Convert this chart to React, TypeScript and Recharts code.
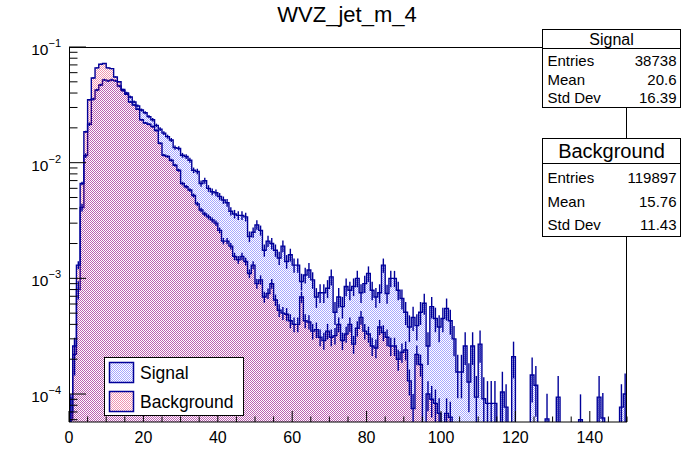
import React from 'react';
import { ComposedChart, Area, Scatter, ErrorBar, XAxis, YAxis } from 'recharts';

const FONT = '"Liberation Sans", Arial, Helvetica, sans-serif';
const NAVY = '#000099';

// normalised bin contents, one bin per unit from 0 to 150
const signal = [
  6e-5, 2.2e-4, 8e-4, 4.1e-3, 1.15e-2, 2.15e-2, 3.55e-2, 4.25e-2, 4.7e-2, 5.2e-2,
  5.1e-2, 5.2e-2, 5.1e-2, 4.6e-2, 4.2e-2, 4.0e-2, 3.7e-2, 3.35e-2, 3.1e-2, 2.85e-2,
  2.7e-2, 2.5e-2, 2.35e-2, 2.1e-2, 1.95e-2, 1.8e-2, 1.68e-2, 1.57e-2, 1.35e-2, 1.33e-2,
  1.16e-2, 1.13e-2, 1.05e-2, 8.6e-3, 8.4e-3, 6.6e-3, 7.0e-3, 6.0e-3, 5.6e-3, 5.5e-3,
  5.1e-3, 4.75e-3, 4.5e-3, 3.8e-3, 3.6e-3, 3.5e-3, 3.5e-3, 3.4e-3, 2.3e-3, 2.5e-3,
  2.9e-3, 2.6e-3, 1.75e-3, 2.1e-3, 2.0e-3, 1.75e-3, 1.5e-3, 1.9e-3, 1.4e-3, 1.6e-3,
  1.3e-3, 1.3e-3, 9.4e-4, 1.07e-3, 1.18e-3, 9.7e-4, 6.9e-4, 7.5e-4, 7.5e-4, 8.2e-4,
  1.03e-3, 5.1e-4, 6.9e-4, 5.7e-4, 8.5e-4, 7.9e-4, 8.5e-4, 1.0e-3, 7.5e-4, 9.0e-4,
  1.1e-3, 7.9e-4, 6.9e-4, 7.5e-4, 1.3e-3, 7.4e-4, 1.0e-3, 1.0e-3, 7.9e-4, 6.7e-4,
  5.1e-4, 3.8e-4, 4.6e-4, 3.9e-4, 5.1e-4, 6.1e-4, 2.6e-4, 5.7e-4, 4.5e-4, 3.8e-4,
  4.5e-4, 5.5e-4, 4.3e-4, 3.0e-4, 1.55e-4, 1.55e-4, 2.6e-4, 1.27e-4, 2.6e-4, 9.4e-5,
  2.7e-4, 9.1e-5, 8.3e-5, 8.3e-5, 8.3e-5, 0, 1.04e-4, 7.7e-5, 0, 2.1e-4,
  0, 0, 0, 0, 1.46e-4, 1.19e-4, 0, 0, 6.1e-5, 0,
  0, 9.4e-5, 0, 0, 0, 0, 0, 6.0e-5, 0, 0,
  0, 0, 9.4e-5, 6.2e-5, 0, 0, 0, 0, 7.7e-5, 1.0e-4,
];

const background = [
  7e-5, 2.6e-4, 1.3e-3, 6.6e-3, 1.85e-2, 3.5e-2, 5.4e-2, 6.6e-2, 7.1e-2, 7.2e-2,
  6.6e-2, 6.5e-2, 5.5e-2, 5.0e-2, 4.3e-2, 3.9e-2, 3.35e-2, 3.15e-2, 2.9e-2, 2.35e-2,
  2.2e-2, 2.15e-2, 2.05e-2, 1.9e-2, 1.47e-2, 1.16e-2, 1.13e-2, 1.05e-2, 9.5e-3, 8.6e-3,
  6.6e-3, 6.2e-3, 5.8e-3, 5.2e-3, 4.4e-3, 3.9e-3, 3.6e-3, 3.4e-3, 3.2e-3, 3.0e-3,
  2.6e-3, 2.1e-3, 2.1e-3, 1.9e-3, 1.55e-3, 1.45e-3, 1.55e-3, 1.4e-3, 1.1e-3, 1.3e-3,
  9.0e-4, 9.7e-4, 6.9e-4, 7.4e-4, 9.0e-4, 6.5e-4, 5.3e-4, 5.0e-4, 4.9e-4, 4.3e-4,
  4.0e-4, 4.0e-4, 6.9e-4, 4.3e-4, 4.2e-4, 3.5e-4, 3.6e-4, 3.1e-4, 2.9e-4, 3.5e-4,
  3.1e-4, 3.2e-4, 4.0e-4, 2.9e-4, 3.3e-4, 4.0e-4, 2.7e-4, 3.7e-4, 4.6e-4, 3.5e-4,
  3.3e-4, 2.6e-4, 2.5e-4, 3.8e-4, 3.4e-4, 3.1e-4, 2.6e-4, 2.6e-4, 2.0e-4, 2.3e-4,
  2.4e-4, 1.3e-4, 7.5e-5, 2.2e-4, 1.8e-4, 0, 1.0e-4, 9.0e-5, 8.3e-5, 6.8e-5,
  0, 6.8e-5, 6.3e-5, 0, 0, 0, 0, 0, 0, 0,
  0, 0, 0, 0, 0, 0, 0, 0, 0, 0,
  0, 0, 0, 0, 0, 0, 0, 0, 0, 0,
  0, 0, 0, 0, 0, 0, 0, 0, 0, 0,
  0, 0, 0, 0, 0, 0, 0, 0, 0, 0,
];

const SIGNAL_ENTRIES = 38738;
const BACKGROUND_ENTRIES = 119897;

const signalStats = [['Entries', '38738'], ['Mean', '20.6'], ['Std Dev', '16.39']];
const backgroundStats = [['Entries', '119897'], ['Mean', '15.76'], ['Std Dev', '11.43']];

const xTicks = [0, 5, 10, 15, 20, 25, 30, 35, 40, 45, 50, 55, 60, 65, 70, 75, 80, 85, 90, 95, 100, 105, 110, 115, 120, 125, 130, 135, 140, 145, 150];
const xLabels = [0, 20, 40, 60, 80, 100, 120, 140];
const yTicks = [
  6e-5, 7e-5, 8e-5, 9e-5,
  1e-4, 2e-4, 3e-4, 4e-4, 5e-4, 6e-4, 7e-4, 8e-4, 9e-4,
  1e-3, 2e-3, 3e-3, 4e-3, 5e-3, 6e-3, 7e-3, 8e-3, 9e-3,
  1e-2, 2e-2, 3e-2, 4e-2, 5e-2, 6e-2, 7e-2, 8e-2, 9e-2,
  1e-1,
];

const Y_MIN = 5.73e-5;
const Y_MAX = 0.1;
const X_MAX = 150;

// empty bins go far below the axis so the step line drops to the frame
const floorVal = (v: number) => (v > 0 ? v : 1e-9);

const histData = signal.map((s, i) => ({ x: i, sig: floorVal(s), bkg: floorVal(background[i]) }));
histData.push({ x: X_MAX, sig: floorVal(signal[signal.length - 1]), bkg: floorVal(background[background.length - 1]) });

const errPoints = (vals: number[], entries: number) =>
  vals
    .map((v, i) => {
      if (v <= 0) return null;
      const e = Math.sqrt(v / entries);
      return { x: i + 0.5, y: v, err: [Math.min(e, v - Y_MIN * 0.999), e] };
    })
    .filter((p) => p !== null && p.y >= Y_MIN);

const sigErr = errPoints(signal, SIGNAL_ENTRIES);
const bkgErr = errPoints(background, BACKGROUND_ENTRIES);

const isMajor = (v: number) => {
  const l = Math.log10(v);
  return Math.abs(l - Math.round(l)) < 1e-6;
};

const XTick = (props: any) => {
  const { x, y, payload } = props;
  const v = payload.value;
  const major = v % 20 === 0;
  return (
    <g>
      <line x1={x} x2={x} y1={y} y2={y - (major ? 11 : 5.5)} stroke="#000" strokeWidth={1} />
      {xLabels.includes(v) && (
        <text x={x} y={y + 21} textAnchor="middle" fontSize={16} fontFamily={FONT} fill="#000">
          {v}
        </text>
      )}
    </g>
  );
};

const YTick = (props: any) => {
  const { x, y, payload } = props;
  const v = payload.value;
  const major = isMajor(v);
  const exp = Math.round(Math.log10(v));
  return (
    <g>
      <line x1={x} x2={x + (major ? 17 : 8.5)} y1={y} y2={y} stroke="#000" strokeWidth={1} />
      {major && (
        <text x={x - 8} y={y + 8} textAnchor="end" fontSize={15.5} fontFamily={FONT} fill="#000">
          10
          <tspan dy={-8} fontSize={11}>{'\u2212' + -exp}</tspan>
        </text>
      )}
    </g>
  );
};

const hatch = (id: string, color: string) => (
  <pattern id={id} width={2} height={2} patternUnits="userSpaceOnUse">
    <rect x={0} y={0} width={1} height={1} fill={color} />
    <rect x={1} y={1} width={1} height={1} fill={color} />
  </pattern>
);

const SIG_FILL = 'rgba(0,0,255,0.35)';
const BKG_FILL = 'rgba(220,0,70,0.42)';

const StatBox = ({ title, rows, top, bottom, divider, titleSize, rowY }: any) => {
  const left = 542.5;
  const right = 680.5;
  return (
    <g fontFamily={FONT} fill="#000">
      <rect x={left} y={top} width={right - left} height={bottom - top} fill="#fff" stroke="#000" strokeWidth={1} />
      <line x1={left} x2={right} y1={divider} y2={divider} stroke="#000" strokeWidth={1} />
      <text x={(left + right) / 2} y={divider - (divider - top) / 2 + titleSize * 0.36} textAnchor="middle" fontSize={titleSize}>
        {title}
      </text>
      {rows.map((r: string[], i: number) => (
        <g key={r[0]}>
          <text x={left + 5} y={rowY[i]} fontSize={15}>{r[0]}</text>
          <text x={right - 4} y={rowY[i]} fontSize={15} textAnchor="end">{r[1]}</text>
        </g>
      ))}
    </g>
  );
};

export default function App() {
  return (
    <div style={{ position: 'absolute', left: 0, top: 0, width: 696, height: 472, background: '#fff' }}>
      <ComposedChart width={696} height={472} data={histData} margin={{ top: 47, right: 69, bottom: 0, left: 0 }}>
        <defs>
          {hatch('sigHatch', SIG_FILL)}
          {hatch('bkgHatch', BKG_FILL)}
        </defs>
        <XAxis
          type="number"
          dataKey="x"
          domain={[0, X_MAX]}
          ticks={xTicks}
          interval={0}
          allowDataOverflow
          height={50}
          axisLine={false}
          tickLine={false}
          tickSize={0}
          tickMargin={0}
          tick={(p: any) => <XTick {...p} />}
        />
        <YAxis
          type="number"
          scale="log"
          domain={[Y_MIN, Y_MAX]}
          ticks={yTicks}
          interval={0}
          allowDataOverflow
          width={69}
          axisLine={false}
          tickLine={false}
          tickSize={0}
          tickMargin={0}
          tick={(p: any) => <YTick {...p} />}
        />
        <Area
          type="stepAfter"
          dataKey="sig"
          stroke={NAVY}
          strokeWidth={1.4}
          fill="url(#sigHatch)"
          fillOpacity={1}
          dot={false}
          activeDot={false}
          isAnimationActive={false}
        />
        <Area
          type="stepAfter"
          dataKey="bkg"
          stroke={NAVY}
          strokeWidth={1.4}
          fill="url(#bkgHatch)"
          fillOpacity={1}
          dot={false}
          activeDot={false}
          isAnimationActive={false}
        />
        <Scatter data={sigErr} dataKey="y" shape={() => <g />} isAnimationActive={false}>
          <ErrorBar dataKey="err" direction="y" width={0} stroke={NAVY} strokeWidth={1.4} />
        </Scatter>
        <Scatter data={bkgErr} dataKey="y" shape={() => <g />} isAnimationActive={false}>
          <ErrorBar dataKey="err" direction="y" width={0} stroke={NAVY} strokeWidth={1.4} />
        </Scatter>
      </ComposedChart>

      <svg width={696} height={472} style={{ position: 'absolute', left: 0, top: 0, pointerEvents: 'none' }}>
        <defs>
          {hatch('legSigHatch', SIG_FILL)}
          {hatch('legBkgHatch', BKG_FILL)}
        </defs>
        <text x={347} y={22} textAnchor="middle" fontSize={22} fontFamily={FONT} fill="#000">
          WVZ_jet_m_4
        </text>
        <rect x={69.5} y={47.5} width={557} height={374.5} fill="none" stroke="#000" strokeWidth={1} />

        <g fontFamily={FONT} fill="#000">
          <rect x={104.5} y={357.5} width={139} height={58} fill="#fff" stroke="#000" strokeWidth={1} />
          <rect x={109.5} y={362.5} width={24} height={20} fill="url(#legSigHatch)" stroke={NAVY} strokeWidth={1.5} />
          <text x={140} y={378.5} fontSize={17.5}>Signal</text>
          <rect x={109.5} y={391.5} width={24} height={20} fill="url(#legBkgHatch)" stroke={NAVY} strokeWidth={1.5} />
          <text x={140} y={407.5} fontSize={17.5}>Background</text>
        </g>

        <StatBox title="Signal" rows={signalStats} top={29.5} bottom={107.5} divider={48.5} titleSize={16} rowY={[66, 85, 103]} />
        <StatBox title="Background" rows={backgroundStats} top={138.5} bottom={236.5} divider={163.5} titleSize={20} rowY={[183, 206.5, 230]} />
      </svg>
    </div>
  );
}
